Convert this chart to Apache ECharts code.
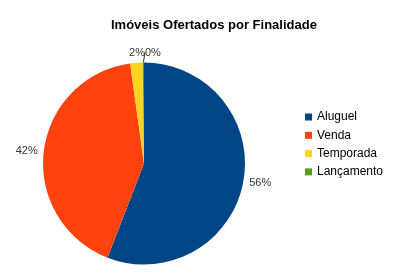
<!DOCTYPE html>
<html><head><meta charset="utf-8">
<script src="https://cdn.jsdelivr.net/npm/echarts@6/dist/echarts.min.js"></script>
<style>html,body{margin:0;padding:0;background:#fff}#c{width:400px;height:275px}</style>
</head><body><div id="c"></div>
<script>
const titleText = 'Imóveis Ofertados por Finalidade';
const categories = ['Aluguel', 'Venda', 'Temporada', 'Lançamento'];
const values = [56, 42, 2, 0.2];
const colors = ['#004586', '#ff420e', '#ffd320', '#579d1c'];

const CX = 144, CY = 163.5, R = 101;
const chart = echarts.init(document.getElementById('c'), null, {renderer: 'canvas'});
const FONT = '"Liberation Sans", Arial, sans-serif';
const data = categories.map((n, i) => {
  const d = {name: n, value: values[i], itemStyle: {color: colors[i]}};
  d.labelLine = i === 3 ? {show: true, length: 5, length2: 0} : {show: false, length: 3, length2: 0};
  return d;
});
chart.setOption({
  animation: false,
  backgroundColor: '#fff',
  title: {
    text: titleText, left: 106, top: 14,
    textStyle: {fontFamily: FONT, fontSize: 13, fontWeight: 'bold', color: '#000'}
  },
  legend: {
    orient: 'vertical', left: 300, top: 105,
    icon: 'rect', itemWidth: 7, itemHeight: 7, itemGap: 4.3,
    textStyle: {fontFamily: FONT, fontSize: 12, color: '#000', lineHeight: 14},
    data: categories
  },
  series: [{
    type: 'pie',
    center: [CX, CY],
    radius: [0, R],
    startAngle: 90,
    clockwise: true,
    percentPrecision: 0,
    avoidLabelOverlap: false,
    label: {
      show: true, position: 'outside', formatter: '{d}%',
      fontFamily: FONT, fontSize: 11, color: '#333', distanceToLabelLine: 3
    },
    labelLine: {lineStyle: {color: '#333', width: 1}},
    labelLayout: function (p) {
      if (p.dataIndex === 2) return {x: CX + 1, y: CY - R - 10, align: 'right', verticalAlign: 'middle'};
      if (p.dataIndex === 3) return {x: CX + 1, y: CY - R - 10, align: 'left', verticalAlign: 'middle'};
      return {};
    },
    itemStyle: {borderWidth: 0},
    emphasis: {disabled: true},
    data: data
  }]
});
</script></body></html>
